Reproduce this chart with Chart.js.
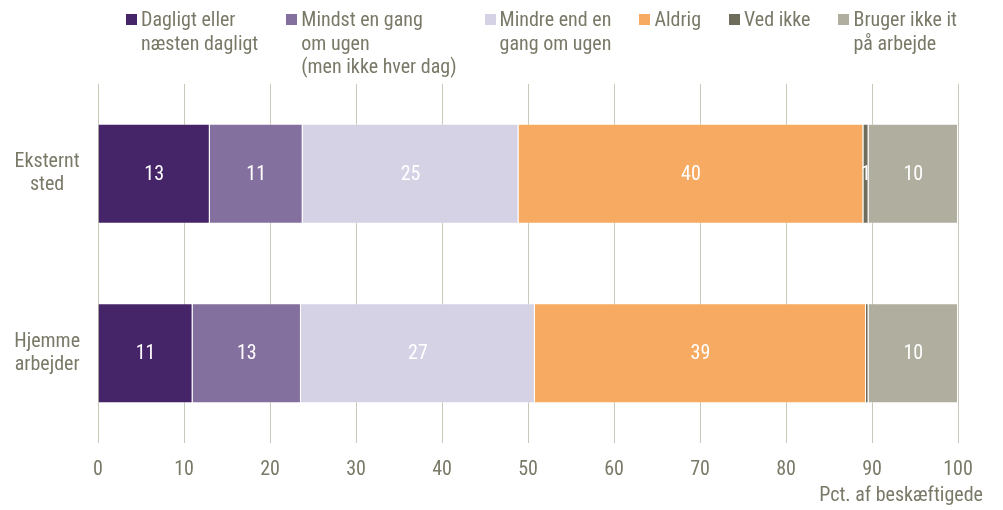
<!DOCTYPE html>
<html>
<head>
<meta charset="utf-8">
<script src="https://cdn.jsdelivr.net/npm/chart.js"></script>
<style>
  body { margin: 0; background: #fff; }
  #wrap { position: relative; width: 1003px; height: 510px; font-family: "Roboto Condensed", sans-serif; color: #7a7968; }
  #legend { position: absolute; left: 126px; top: 8px; display: flex; gap: 28px; font-size: 20px; line-height: 23.5px; white-space: nowrap; }
  #legend .item { display: flex; align-items: flex-start; }
  #legend .box { width: 11px; height: 11px; margin: 6px 4px 0 0; flex: none; }
  #axis-title { position: absolute; right: 20px; top: 482px; font-size: 20px; }
</style>
</head>
<body>
<div id="wrap">
  <canvas id="chart"></canvas>
  <div id="legend"></div>
  <div id="axis-title">Pct. af beskæftigede</div>
</div>
<script>
// --- DATA ---
const categories = [['Eksternt', 'sted'], ['Hjemme', 'arbejder']];
const seriesNames = [
    ['Dagligt eller', 'næsten dagligt'],
    ['Mindst en gang', 'om ugen', '(men ikke hver dag)'],
    ['Mindre end en', 'gang om ugen'],
    ['Aldrig'],
    ['Ved ikke'],
    ['Bruger ikke it', 'på arbejde']
];
const daily = [13.0, 11.0];
const weekly = [10.8, 12.6];
const lessThanWeekly = [25.1, 27.2];
const never = [40.1, 38.5];
const dontKnow = [0.6, 0.3];
const noIt = [10.4, 10.4];
const xTicks = [0, 10, 20, 30, 40, 50, 60, 70, 80, 90, 100];

// --- STYLING ---
const colors = ['#452568', '#83709f', '#d5d2e6', '#f6aa62', '#6e6d5b', '#b0ae9f'];
const textColor = '#7a7968';
const gridColor = '#c9c8b9';
const fontFamily = '"Roboto Condensed", sans-serif';

const seriesValues = [daily, weekly, lessThanWeekly, never, dontKnow, noIt];

// --- HTML LEGEND ---
const legendEl = document.getElementById('legend');
seriesNames.forEach((name, i) => {
    const item = document.createElement('div');
    item.className = 'item';
    item.innerHTML = '<span class="box" style="background:' + colors[i] + '"></span><span>' + name.join('<br>') + '</span>';
    legendEl.appendChild(item);
});

// --- BAR VALUE LABELS ---
const barLabels = {
    id: 'barLabels',
    afterDatasetsDraw(chart) {
        const ctx = chart.ctx;
        ctx.save();
        ctx.font = '20px ' + fontFamily;
        ctx.fillStyle = '#ffffff';
        ctx.textAlign = 'center';
        ctx.textBaseline = 'middle';
        chart.data.datasets.forEach((ds, i) => {
            chart.getDatasetMeta(i).data.forEach((bar, j) => {
                const v = Math.round(ds.data[j]);
                if (v < 1) return;
                const x = (bar.x + bar.base) / 2;
                ctx.fillText(String(v), x, bar.y + 1);
            });
        });
        ctx.restore();
    }
};

// --- CHART ---
new Chart(document.getElementById('chart'), {
    type: 'bar',
    data: {
        labels: categories,
        datasets: seriesNames.map((name, i) => ({
            label: name.join(' '),
            data: seriesValues[i],
            backgroundColor: colors[i],
            borderColor: 'rgba(255,255,255,0.3)',
            borderWidth: 1,
            categoryPercentage: 1,
            barPercentage: 0.557
        }))
    },
    options: {
        indexAxis: 'y',
        responsive: true,
        maintainAspectRatio: false,
        animation: false,
        layout: { padding: { top: 84, right: 45, left: 0, bottom: 0 } },
        plugins: {
            legend: { display: false },
            tooltip: { enabled: false }
        },
        scales: {
            x: {
                stacked: true,
                min: 0,
                max: 100,
                afterBuildTicks: (scale) => { scale.ticks = xTicks.map(v => ({ value: v })); },
                grid: { color: gridColor, drawTicks: false },
                border: { display: false },
                ticks: { color: textColor, padding: 16, font: { family: fontFamily, size: 20, lineHeight: 1.1 } },
                afterFit: (scale) => { scale.height = 67; }
            },
            y: {
                stacked: true,
                grid: { display: false, drawTicks: false },
                border: { display: false },
                ticks: { color: textColor, padding: 18, crossAlign: 'center', font: { family: fontFamily, size: 20, lineHeight: 1.15 } },
                afterFit: (scale) => { scale.width = 98; }
            }
        }
    },
    plugins: [barLabels]
});
</script>
</body>
</html>
